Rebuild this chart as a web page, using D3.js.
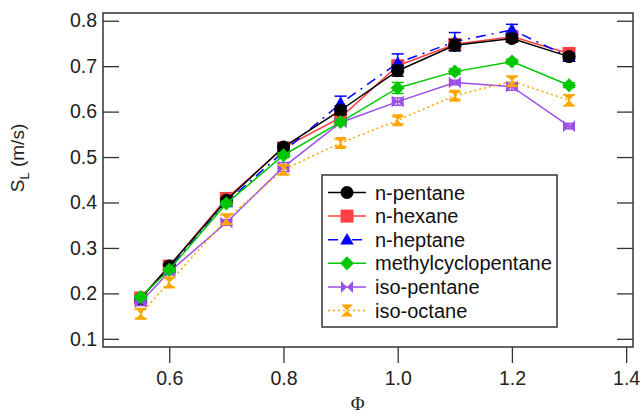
<!DOCTYPE html>
<html>
<head>
<meta charset="utf-8">
<script src="https://cdn.jsdelivr.net/npm/d3@7"></script>
<style>
  html, body { margin: 0; padding: 0; background: #fff; }
  svg { display: block; font-family: "Liberation Sans", Arial, sans-serif; }
</style>
</head>
<body>
<svg id="chart" width="641" height="416"></svg>
<script>
// Equivalence ratio values
const phi = [0.55, 0.6, 0.7, 0.8, 0.9, 1.0, 1.1, 1.2, 1.3];

// Laminar flame speeds S_L (m/s) per fuel
const nPentane = [0.188, 0.260, 0.405, 0.522, 0.603, 0.690, 0.746, 0.761, 0.721];
const nHexane  = [0.190, 0.260, 0.409, 0.520, 0.587, 0.701, 0.748, 0.765, 0.728];
const nHeptane = [0.190, 0.255, 0.400, 0.512, 0.618, 0.707, 0.754, 0.780, 0.720];
const methylcyclopentane = [0.192, 0.252, 0.398, 0.504, 0.577, 0.652, 0.688, 0.710, 0.658];
const isoPentane = [0.181, 0.247, 0.356, 0.478, 0.576, 0.622, 0.664, 0.655, 0.568];
const isoOctane  = [0.155, 0.224, 0.363, 0.472, 0.531, 0.581, 0.635, 0.667, 0.625];

// Measurement uncertainties
const nPentaneErr = [0.005, 0.005, 0.005, 0.008, 0.010, 0.012, 0.012, 0.008, 0.006];
const nHexaneErr  = [0.005, 0.005, 0.005, 0.005, 0.008, 0.010, 0.010, 0.008, 0.008];
const nHeptaneErr = [0.005, 0.005, 0.005, 0.008, 0.016, 0.020, 0.020, 0.012, 0.008];
const mcpErr      = [0.004, 0.004, 0.005, 0.005, 0.006, 0.012, 0.006, 0.005, 0.005];
const isoPentaneErr = [0.008, 0.006, 0.006, 0.010, 0.006, 0.008, 0.005, 0.008, 0.006];
const isoOctaneErr  = [0.010, 0.010, 0.010, 0.010, 0.008, 0.008, 0.008, 0.010, 0.012];

const fuelNames = ["n-pentane", "n-hexane", "n-heptane", "methylcyclopentane", "iso-pentane", "iso-octane"];

const xTicks = [0.6, 0.8, 1.0, 1.2, 1.4];
const yTicks = [0.1, 0.2, 0.3, 0.4, 0.5, 0.6, 0.7, 0.8];

// Marker shapes (half-size h)
const shapes = {
  circle: h => d3.symbol(d3.symbolCircle, Math.PI * h * h)(),
  square: h => `M${-h},${-h}H${h}V${h}H${-h}Z`,
  triangle: h => `M0,${-h * 1.05}L${h * 1.05},${h * 0.75}L${-h * 1.05},${h * 0.75}Z`,
  diamond: h => `M0,${-h}L${h},0L0,${h}L${-h},0Z`,
  bowtie: h => `M${-h},${-h}L${h},${h}L${h},${-h}L${-h},${h}Z`,
  hourglass: h => `M${-h},${-h}L${h},${-h}L${-h},${h}L${h},${h}Z`
};

const series = [
  { name: fuelNames[0], values: nPentane, err: nPentaneErr, color: "#000000", shape: "circle", size: 6.5, dash: null },
  { name: fuelNames[1], values: nHexane, err: nHexaneErr, color: "#ff4040", shape: "square", size: 6.5, dash: null },
  { name: fuelNames[2], values: nHeptane, err: nHeptaneErr, color: "#0000ff", shape: "triangle", size: 6.5, dash: "10,6,2,6" },
  { name: fuelNames[3], values: methylcyclopentane, err: mcpErr, color: "#00c800", shape: "diamond", size: 7, dash: null },
  { name: fuelNames[4], values: isoPentane, err: isoPentaneErr, color: "#9b4fe6", shape: "bowtie", size: 6, dash: null },
  { name: fuelNames[5], values: isoOctane, err: isoOctaneErr, color: "#ffa500", shape: "hourglass", size: 6, dash: "2,3" }
];

// Drawing order (later = on top)
const drawOrder = [1, 2, 0, 4, 5, 3];

const svg = d3.select("#chart");
const W = 641, H = 416;
const margin = { left: 103, top: 13, right: 8, bottom: 69 };
const plotW = W - margin.left - margin.right;
const plotH = H - margin.top - margin.bottom;

const x = d3.scaleLinear().domain([0.484, 1.412]).range([margin.left, margin.left + plotW]);
const y = d3.scaleLinear().domain([0.082, 0.817]).range([margin.top + plotH, margin.top]);

const frameColor = "#333";

// Axes
const xAxis = d3.axisBottom(x).tickValues(xTicks).tickFormat(d3.format(".1f")).tickSize(16).tickSizeOuter(0);
const yAxis = d3.axisLeft(y).tickValues(yTicks).tickFormat(d3.format(".1f")).tickSize(-16).tickSizeOuter(0);
const yAxisRight = d3.axisRight(y).tickValues(yTicks).tickFormat("").tickSize(-16).tickSizeOuter(0);

const gx = svg.append("g").attr("transform", `translate(0,${margin.top + plotH})`).call(xAxis);
const gy = svg.append("g").attr("transform", `translate(${margin.left},0)`).call(yAxis);
const gyr = svg.append("g").attr("transform", `translate(${margin.left + plotW},0)`).call(yAxisRight);

[gx, gy, gyr].forEach(g => {
  g.select(".domain").remove();
  g.selectAll(".tick line").attr("stroke", frameColor).attr("stroke-width", 1.3);
  g.selectAll(".tick text").attr("fill", "#222").style("font-size", "19.5px").style("font-family", "'Liberation Sans', Arial, sans-serif");
});
gx.selectAll(".tick text").attr("dy", "0.71em").attr("y", 24);
gy.selectAll(".tick text").attr("x", -6);

// Plot frame
svg.append("rect")
  .attr("x", margin.left).attr("y", margin.top)
  .attr("width", plotW).attr("height", plotH)
  .attr("fill", "none").attr("stroke", frameColor).attr("stroke-width", 1.5);

// Axis titles
svg.append("text")
  .attr("x", x(0.93)).attr("y", 410)
  .attr("text-anchor", "middle")
  .style("font-family", "'Liberation Serif', 'Times New Roman', serif")
  .style("font-size", "19px").attr("fill", "#222")
  .text("Φ");

const yl = svg.append("text")
  .attr("transform", `translate(24,158) rotate(-90)`)
  .attr("text-anchor", "middle")
  .style("font-size", "19px").attr("fill", "#222");
yl.append("tspan").text("S");
yl.append("tspan").attr("dy", 5).style("font-size", "13px").text("L");
yl.append("tspan").attr("dy", -5).text(" (m/s)");

// Series
const line = d3.line().x(d => x(d[0])).y(d => y(d[1]));
const plot = svg.append("g");

drawOrder.forEach(i => {
  const s = series[i];
  const pts = phi.map((p, k) => [p, s.values[k], s.err[k]]);
  const g = plot.append("g");
  g.append("path")
    .datum(pts)
    .attr("d", line)
    .attr("fill", "none")
    .attr("stroke", s.color)
    .attr("stroke-width", 1.5)
    .attr("stroke-dasharray", s.dash);
  // error bars
  const eb = g.selectAll(".eb").data(pts).join("g").attr("class", "eb");
  eb.append("line")
    .attr("x1", d => x(d[0])).attr("x2", d => x(d[0]))
    .attr("y1", d => y(d[1] - d[2])).attr("y2", d => y(d[1] + d[2]))
    .attr("stroke", s.color).attr("stroke-width", 1.5);
  [-1, 1].forEach(sg => {
    eb.append("line")
      .attr("x1", d => x(d[0]) - 6).attr("x2", d => x(d[0]) + 6)
      .attr("y1", d => y(d[1] + sg * d[2])).attr("y2", d => y(d[1] + sg * d[2]))
      .attr("stroke", s.color).attr("stroke-width", 1.5);
  });
  // markers
  g.selectAll(".mk").data(pts).join("path")
    .attr("class", "mk")
    .attr("transform", d => `translate(${x(d[0])},${y(d[1])})`)
    .attr("d", shapes[s.shape](s.size))
    .attr("fill", s.color);
});

// Legend
const lg = svg.append("g");
lg.append("rect")
  .attr("x", 322).attr("y", 175).attr("width", 235).attr("height", 152)
  .attr("fill", "#fff").attr("stroke", frameColor).attr("stroke-width", 1.5);
const rowY = d3.scaleLinear().domain([0, 5]).range([192.5, 310.5]);
series.forEach((s, i) => {
  const yy = rowY(i);
  lg.append("line")
    .attr("x1", 328).attr("x2", 366).attr("y1", yy).attr("y2", yy)
    .attr("stroke", s.color).attr("stroke-width", 1.5)
    .attr("stroke-dasharray", s.dash);
  lg.append("path")
    .attr("transform", `translate(347,${yy})`)
    .attr("d", shapes[s.shape](s.size))
    .attr("fill", s.color);
  lg.append("text")
    .attr("x", 375).attr("y", yy).attr("dy", "0.35em")
    .style("font-size", "20px").attr("fill", "#111")
    .text(s.name);
});
</script>
</body>
</html>
